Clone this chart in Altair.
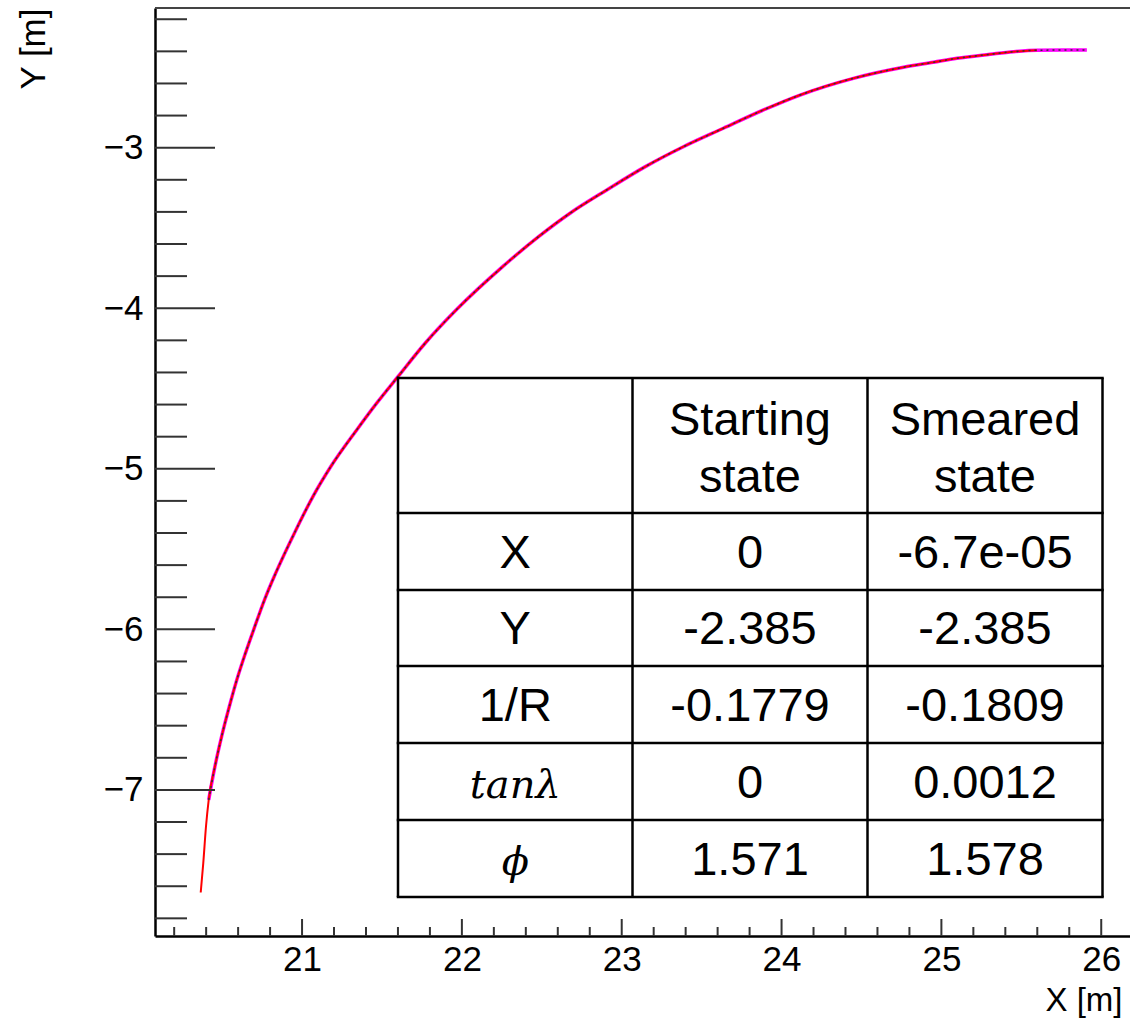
import altair as alt
import pandas as pd

# ---------------- data ----------------
track_x = [20.366, 20.382, 20.399, 20.416, 20.455, 20.497, 20.545, 20.592, 20.646, 20.697,
           20.765, 20.835, 20.952, 21.068, 21.180, 21.342, 21.467, 21.600, 21.770, 21.965,
           22.255, 22.480, 22.677, 22.907, 23.148, 23.386, 23.636, 23.887, 24.116,
           24.450, 24.763, 24.950, 25.097, 25.305, 25.451, 25.598, 25.764, 25.910]
track_y = [-7.639, -7.456, -7.228, -7.062, -6.854, -6.667, -6.481, -6.314, -6.148, -6.003,
           -5.816, -5.650, -5.401, -5.173, -4.986, -4.758, -4.591, -4.426, -4.218, -4.010,
           -3.741, -3.554, -3.408, -3.263, -3.118, -2.994, -2.879, -2.765, -2.672,
           -2.568, -2.499, -2.468, -2.443, -2.418, -2.402, -2.393, -2.392, -2.392]
red_count = 36        # red track: first 36 points
fitted_start = 3      # magenta / black tracks start at the 4th point

x_major = [21, 22, 23, 24, 25, 26]
x_minor = [20.2, 20.4, 20.6, 20.8, 21.2, 21.4, 21.6, 21.8, 22.2, 22.4, 22.6, 22.8,
           23.2, 23.4, 23.6, 23.8, 24.2, 24.4, 24.6, 24.8, 25.2, 25.4, 25.6, 25.8]
y_major = [-3, -4, -5, -6, -7]
y_minor = [-2.2, -2.4, -2.6, -2.8, -3.2, -3.4, -3.6, -3.8, -4.2, -4.4, -4.6, -4.8,
           -5.2, -5.4, -5.6, -5.8, -6.2, -6.4, -6.6, -6.8, -7.2, -7.4, -7.6, -7.8]

row_labels = ["X", "Y", "1/R", "tanλ", "ϕ"]
row_is_math = [False, False, False, True, True]
start_vals = ["0", "-2.385", "-0.1779", "0", "1.571"]
smeared_vals = ["-6.7e-05", "-2.385", "-0.1809", "0.0012", "1.578"]
header_line1 = ["Starting", "Smeared"]
header_line2 = ["state", "state"]

# ---------------- layout ----------------
W, H = 975, 928
X_DOMAIN = [20.08, 26.18]
Y_DOMAIN = [-7.91, -2.13]
FONT = "Liberation Sans"
MATH_FONT = "DejaVu Serif"
# table geometry in pixels inside the plot area, mapped onto the axes' units
col_px = [243, 477.5, 712.5, 947.5]
row_px = [370, 505, 582, 658, 735, 812, 889]


def ux(p):
    return X_DOMAIN[0] + p * (X_DOMAIN[1] - X_DOMAIN[0]) / W


def uy(p):
    return Y_DOMAIN[1] - p * (Y_DOMAIN[1] - Y_DOMAIN[0]) / H


xs = alt.Scale(domain=X_DOMAIN, nice=False, zero=False)
ys = alt.Scale(domain=Y_DOMAIN, nice=False, zero=False)

xaxis = alt.Axis(values=x_major, format="d", title="X [m]", ticks=False, tickSize=0,
                 grid=False, domainColor="black", domainWidth=2.5, labelFlush=False,
                 labelFont=FONT, labelFontSize=35, labelColor="black", labelPadding=6,
                 titleFont=FONT, titleFontSize=33, titleFontWeight="normal",
                 titleColor="black", titleAlign="right", titleBaseline="alphabetic",
                 titleX=W - 8, titleY=74)
yaxis = alt.Axis(values=y_major, format="d", title="Y [m]", ticks=False, tickSize=0,
                 grid=False, domainColor="black", domainWidth=2.5, labelFlush=False,
                 labelFont=FONT, labelFontSize=35, labelColor="black", labelPadding=12,
                 titleFont=FONT, titleFontSize=35, titleFontWeight="normal",
                 titleColor="black", titleAngle=270, titleAlign="right",
                 titleBaseline="middle", titleX=-122, titleY=0)


def X(f):
    return alt.X(f, scale=xs, axis=xaxis)


def Y(f):
    return alt.Y(f, scale=ys, axis=yaxis)


track = pd.DataFrame({"X": track_x, "Y": track_y, "i": list(range(len(track_x)))})
red_df = track.iloc[:red_count]
fit_df = track.iloc[fitted_start:]

magenta = alt.Chart(fit_df).mark_line(color="#ff00ff", strokeWidth=3.5, interpolate="monotone").encode(
    x=X("X:Q"), y=Y("Y:Q"), order="i:Q")
red = alt.Chart(red_df).mark_line(color="#ff0000", strokeWidth=2, interpolate="monotone").encode(
    x=X("X:Q"), y=Y("Y:Q"), order="i:Q")
black = alt.Chart(fit_df).mark_line(color="#333333", strokeWidth=1.5, strokeDash=[2, 4],
                                    interpolate="monotone").encode(
    x=X("X:Q"), y=Y("Y:Q"), order="i:Q")

# inward ticks
ytm = alt.Chart(pd.DataFrame({"v": y_major})).mark_rule(color="#333333", strokeWidth=2).encode(
    y=Y("v:Q"), x=alt.value(0), x2=alt.value(60))
ytn = alt.Chart(pd.DataFrame({"v": y_minor})).mark_rule(color="#333333", strokeWidth=2).encode(
    y=Y("v:Q"), x=alt.value(0), x2=alt.value(32))
xtm = alt.Chart(pd.DataFrame({"v": x_major})).mark_rule(color="#333333", strokeWidth=2).encode(
    x=X("v:Q"), y=alt.value(H), y2=alt.value(H - 17))
xtn = alt.Chart(pd.DataFrame({"v": x_minor})).mark_rule(color="#333333", strokeWidth=2).encode(
    x=X("v:Q"), y=alt.value(H), y2=alt.value(H - 9))
top = alt.Chart(pd.DataFrame({"a": [0]})).mark_rule(color="#444444", strokeWidth=2).encode(
    x=alt.value(0), x2=alt.value(W), y=alt.value(0))

# table
bg = alt.Chart(pd.DataFrame({"x": [ux(col_px[0])], "x2": [ux(col_px[-1])],
                             "y": [uy(row_px[0])], "y2": [uy(row_px[-1])]})).mark_rect(color="white").encode(
    x=X("x:Q"), x2="x2:Q", y=Y("y:Q"), y2="y2:Q")
lines = []
for ry in row_px:
    lines.append({"x": ux(col_px[0] - 1.25), "x2": ux(col_px[-1] + 1.25), "y": uy(ry), "y2": uy(ry)})
for cx in col_px:
    lines.append({"x": ux(cx), "x2": ux(cx), "y": uy(row_px[0]), "y2": uy(row_px[-1])})
grid = alt.Chart(pd.DataFrame(lines)).mark_rule(color="black", strokeWidth=2.5).encode(
    x=X("x:Q"), x2="x2:Q", y=Y("y:Q"), y2="y2:Q")

centers = [(col_px[k] + col_px[k + 1]) / 2 for k in range(3)]
cells_sans, cells_math = [], []
for k in range(2):
    cells_sans.append({"t": header_line1[k], "x": ux(centers[k + 1]), "y": uy(427)})
    cells_sans.append({"t": header_line2[k], "x": ux(centers[k + 1]), "y": uy(484)})
for r in range(5):
    base = uy((row_px[r + 1] + row_px[r + 2]) / 2 + 16)
    (cells_math if row_is_math[r] else cells_sans).append({"t": row_labels[r], "x": ux(centers[0]), "y": base})
    cells_sans.append({"t": start_vals[r], "x": ux(centers[1]), "y": base})
    cells_sans.append({"t": smeared_vals[r], "x": ux(centers[2]), "y": base})
txt = alt.Chart(pd.DataFrame(cells_sans)).mark_text(font=FONT, fontSize=47, color="black",
                                                     align="center", baseline="alphabetic").encode(
    x=X("x:Q"), y=Y("y:Q"), text="t:N")
mtxt = alt.Chart(pd.DataFrame(cells_math)).mark_text(font=MATH_FONT, fontSize=40, fontStyle="italic",
                                                      color="black", align="center",
                                                      baseline="alphabetic").encode(
    x=X("x:Q"), y=Y("y:Q"), text="t:N")

chart = alt.layer(magenta, red, black, ytm, ytn, xtm, xtn, top, bg, grid, txt, mtxt).properties(
    width=W, height=H,
    padding={"left": 155, "top": 8, "right": 0, "bottom": 83},
    autosize=alt.AutoSizeParams(type="none"),
).configure_view(stroke=None)

chart.save("out.html", embed_options={"renderer": "svg", "actions": False})
